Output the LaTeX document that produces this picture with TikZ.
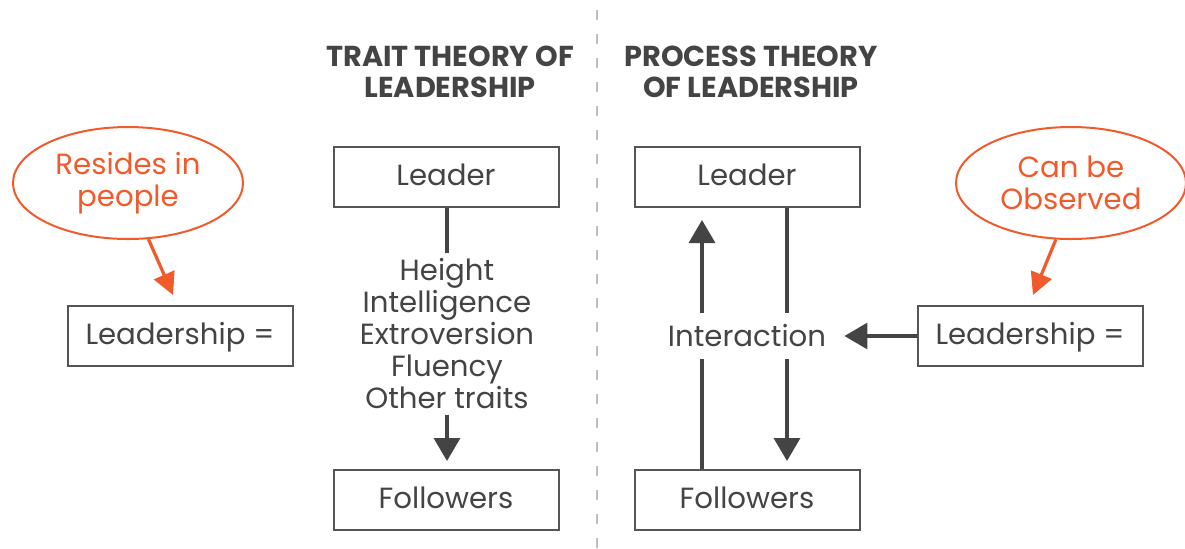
\documentclass[tikz,border=0pt]{standalone}
\usepackage{fontspec}
\setmainfont{Poppins}
\usepackage{xcolor}
\usetikzlibrary{positioning,arrows.meta,shapes.geometric}

\definecolor{inkgray}{HTML}{444444}
\definecolor{framegray}{HTML}{555555}
\definecolor{accent}{HTML}{F15A2B}

\tikzset{
  box/.style={draw=framegray, line width=1pt, minimum width=112.5pt, minimum height=30pt,
    inner sep=0pt, text height=9.5pt, text depth=1pt, text=inkgray,
    font=\fontsize{14.6}{16}\selectfont},
  bubble/.style={ellipse, draw=accent, line width=1pt, minimum width=115pt, minimum height=56pt,
    inner sep=0pt, align=center, text=accent, font=\fontsize{14.6}{16}\selectfont},
  heading/.style={align=center, text=inkgray, font=\bfseries\fontsize{14.4}{15.5}\selectfont},
  flow/.style={draw=inkgray, line width=1.7pt, -{Triangle[width=13pt,length=11.5pt]}},
  hint/.style={draw=accent, line width=1.6pt, -{Triangle[width=11pt,length=11pt]}},
}

\begin{document}
\begin{tikzpicture}[x=0.5pt, y=-0.5pt]
  \useasboundingbox (0,0) rectangle (1185,548);

  % divider between the two theories
  \draw[gray!50, line width=0.7pt, dash pattern=on 5pt off 7pt] (597,10) -- (597,548);

  % ---- LEFT: Trait theory ----
  \node[heading] (tHead) at (450,72) {TRAIT THEORY OF\\LEADERSHIP};
  \node[bubble] (lBubble) at (128,183) {Resides in\\people};
  \node[box] (lDef) at (180,336) {Leadership =};
  \draw[hint] (lBubble.-70) -- ([xshift=-3.5pt,yshift=5pt]lDef.north);

  \node[box] (tLeader) at (446,177) {Leader};
  \node[box] (tFollowers) at (446,500) {Followers};
  \node[align=center, text=inkgray, font=\fontsize{14.6}{16}\selectfont, inner sep=2.5pt]
    (traits) at (447,334) {Height\\Intelligence\\Extroversion\\Fluency\\Other traits};
  \draw[draw=inkgray, line width=1.7pt] (tLeader.south -| traits) -- (traits.north);
  \draw[flow, shorten >=4pt] (traits.south) -- (tFollowers.north -| traits);

  % ---- RIGHT: Process theory ----
  \node[heading] (pHead) at (751,72) {PROCESS THEORY\\OF LEADERSHIP};
  \node[bubble] (rBubble) at (1071,183) {Can be\\Observed};
  \node[box] (rDef) at (1030,336) {Leadership =};
  \draw[hint] (rBubble.-105) -- ([xshift=1.5pt,yshift=5pt]rDef.north);

  \node[box] (pLeader) at (747,177) {Leader};
  \node[box] (pFollowers) at (747,500) {Followers};
  \node[text=inkgray, font=\fontsize{14.6}{16}\selectfont, minimum height=22.5pt, inner sep=0pt]
    (inter) at (747,336) {Interaction};

  % two-way exchange between leader and followers
  \coordinate (upX) at (702,0);
  \coordinate (downX) at (787,0);
  \draw[draw=inkgray, line width=1.7pt] (pFollowers.north -| upX) -- (inter.south -| upX);
  \draw[flow, shorten >=6pt] (inter.north -| upX) -- (pLeader.south -| upX);
  \draw[draw=inkgray, line width=1.7pt] (pLeader.south -| downX) -- (inter.north -| downX);
  \draw[flow, shorten >=4pt] (inter.south -| downX) -- (pFollowers.north -| downX);

  \draw[flow, shorten >=9pt] (rDef.west) -- (inter.east);
\end{tikzpicture}
\end{document}
